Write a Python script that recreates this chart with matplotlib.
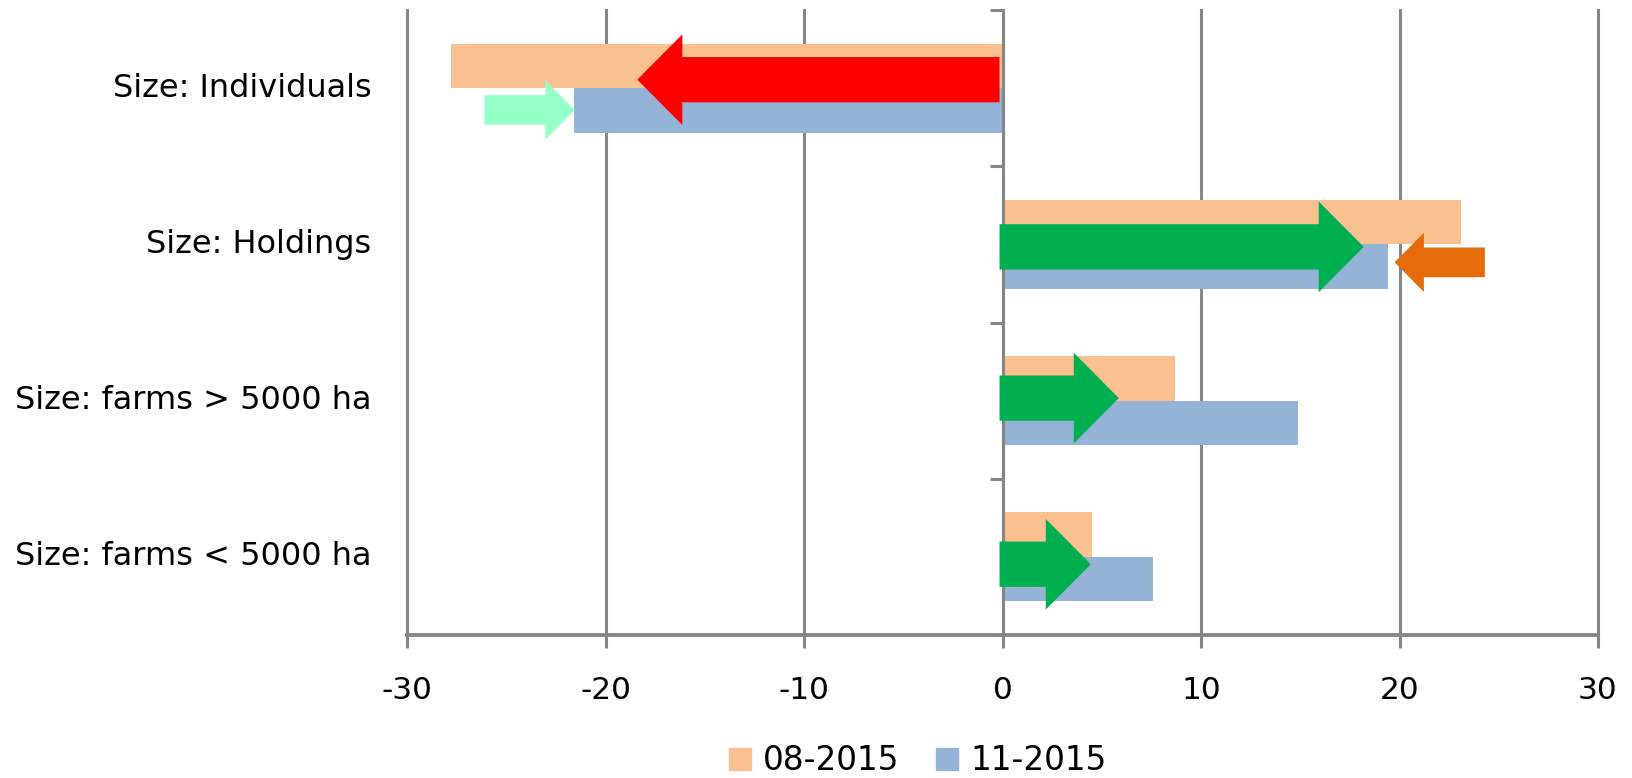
import numpy as np
import matplotlib
matplotlib.use("Agg")
import matplotlib.pyplot as plt
from matplotlib.patches import FancyArrow, Rectangle

# Dados
categories = ["Size: Individuals", "Size: Holdings", "Size: farms > 5000 ha", "Size: farms < 5000 ha"]
series_names = ["08-2015", "11-2015"]
vals_0815 = [-27.8, 23.1, 8.7, 4.5]
vals_1115 = [-21.6, 19.4, 14.9, 7.6]
xticks = [-30, -20, -10, 0, 10, 20, 30]

# Setas desenhadas sobre as barras: (x inicio, x fim, categoria, deslocamento y, cor)
arrows = [
    (-0.15, -18.4, 0, -0.054, "#FF0000", "big"),
    (-26.1, -21.55, 0, 0.14, "#96FFC6", "small"),
    (-0.15, 18.2, 1, 0.016, "#00B050", "big"),
    (24.3, 19.75, 1, 0.115, "#E46C0A", "small"),
    (-0.15, 5.86, 2, -0.016, "#00B050", "big"),
    (-0.15, 4.45, 3, 0.047, "#00B050", "big"),
]
arrow_sizes = {"big": (0.29, 0.58, 2.27), "small": (0.19, 0.38, 1.48)}

c_orange = "#FAC090"
c_blue = "#95B3D7"
c_grid = "#868686"

plt.rcParams['font.family'] = ['DejaVu Sans']

W, H = 1632, 778
fig = plt.figure(figsize=(W / 100, H / 100), dpi=100)
ax = fig.add_axes([407 / W, 1 - 635 / H, (1598 - 407) / W, (635 - 10) / H])

y = np.arange(len(categories))
h = 0.285
ax.barh(y - h / 2, vals_0815, height=h, color=c_orange, zorder=2)
ax.barh(y + h / 2, vals_1115, height=h, color=c_blue, zorder=2)

# Setas
for x0, x1, cat, off, col, size in arrows:
    w, hw, hl = arrow_sizes[size]
    arr = FancyArrow(x0, cat + off, x1 - x0, 0, width=w, head_width=hw, head_length=hl,
                     length_includes_head=True, color=col, lw=0, zorder=4)
    ax.add_patch(arr)

ax.set_xlim(-30, 30)
ax.set_ylim(3.5, -0.5)
ax.set_xticks(xticks)
ax.set_xticklabels([str(t) for t in xticks])
ax.xaxis.grid(True, color=c_grid, lw=2.2, zorder=0)
for gl in ax.get_xgridlines():
    gl.set_clip_on(False)
ax.set_axisbelow(True)

# eixo vertical no zero
for s in ["top", "right"]:
    ax.spines[s].set_visible(False)
ax.spines["left"].set_position(("data", 0))
ax.spines["left"].set_color(c_grid)
ax.spines["left"].set_linewidth(2.2)
ax.spines["left"].set_zorder(3)
ax.spines["bottom"].set_color(c_grid)
ax.spines["bottom"].set_linewidth(2.8)
ax.set_yticks(np.arange(-0.5, 3.6, 1.0))
ax.set_yticklabels([])
ax.tick_params(axis="y", direction="out", length=9.5, width=2.2, color=c_grid)
ax.tick_params(axis="x", direction="out", length=9.5, width=2.2, color=c_grid,
               labelsize=22.5, pad=20)

for i, cat in enumerate(categories):
    ax.text(-0.03, i, cat, transform=ax.get_yaxis_transform(), ha="right", va="center",
            fontsize=23)

# Legenda manual, bem perto da borda de baixo como no original
leg_x = [729, 936]
base = 770
for xs, name, col in zip(leg_x, series_names, [c_orange, c_blue]):
    fig.add_artist(Rectangle((xs / W, 1 - base / H), 22 / W, 22 / H, color=col,
                             transform=fig.transFigure))
    fig.text((xs + 34) / W, 1 - base / H, name, fontsize=23.5, ha="left", va="baseline")

fig.savefig("out.png", dpi=100)
